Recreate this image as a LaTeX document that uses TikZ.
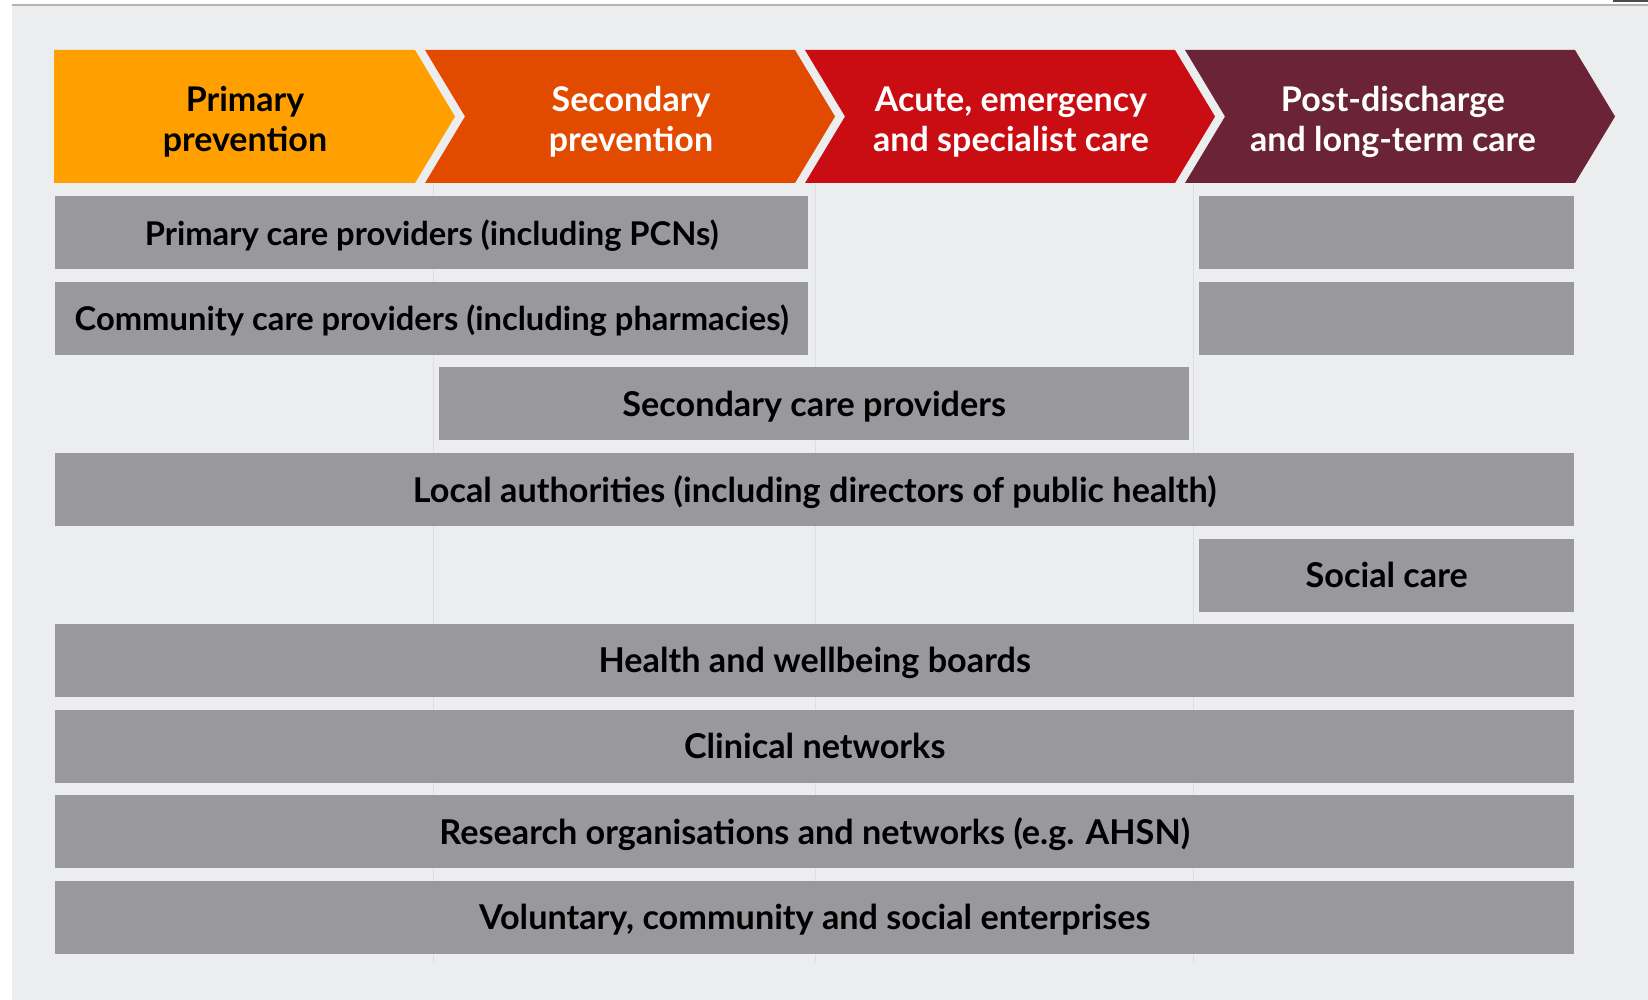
\documentclass[tikz,border=0pt]{standalone}
\usepackage{fontspec}
\setmainfont{Lato}
\definecolor{bgpanel}{HTML}{ECEDEF}
\definecolor{topline}{HTML}{B4B4B6}
\definecolor{gridline}{HTML}{DDDEE1}
\definecolor{barfill}{HTML}{99989D}
\definecolor{chevA}{HTML}{FFA000}
\definecolor{chevB}{HTML}{E24A00}
\definecolor{chevC}{HTML}{CA0C13}
\definecolor{chevD}{HTML}{6B2437}
\begin{document}
\begin{tikzpicture}[x=1pt,y=-1pt,
  bar/.style={rectangle, fill=barfill, draw=none, inner sep=0pt, anchor=north west,
    minimum height=73pt, text depth=1pt, font=\fontsize{34.2}{40}\selectfont\bfseries, text=black},
  narrowbar/.style={bar, font=\fontsize{32.7}{38}\selectfont\bfseries},
  chevtext/.style={align=center, font=\fontsize{34}{40}\selectfont\bfseries, inner sep=0pt}]
\useasboundingbox (0,0) rectangle (1648,1000);
\fill[white] (0,0) rectangle (1648,1000);
\fill[bgpanel] (12,6) rectangle (1648,1000);
\draw[topline, line width=2pt] (12,5) -- (1648,5);
\fill[black!70] (1613,0) rectangle (1648,2);
% faint column lines
\foreach \cx in {433,815,1193} {
  \draw[gridline, line width=1pt] (\cx,184) -- (\cx,962);
}
% chevrons
\fill[chevA] (54,50) -- (415,50) -- (455,116.5) -- (415,183) -- (54,183) -- cycle;
\fill[chevB] (425,50) -- (795,50) -- (835,116.5) -- (795,183) -- (425,183) -- (465,116.5) -- cycle;
\fill[chevC] (805,50) -- (1175,50) -- (1215,116.5) -- (1175,183) -- (805,183) -- (845,116.5) -- cycle;
\fill[chevD] (1185,50) -- (1575,50) -- (1615,116.5) -- (1575,183) -- (1185,183) -- (1225,116.5) -- cycle;
\node[chevtext, text=black] (c1) at (245,122) {Primary\\prevention};
\node[chevtext, text=white] (c2) at (631,122) {Secondary\\prevention};
\node[chevtext, text=white] (c3) at (1011,122) {Acute, emergency\\and specialist care};
\node[chevtext, text=white] (c4) at (1393,122) {Post-discharge\\and long-term care};
% bars
\node[narrowbar, minimum width=753pt] (pc) at (55,196) {Primary care providers (including PCNs)};
\node[bar, minimum width=375pt] (pcR) at (1199,196) {};
\node[narrowbar, minimum width=753pt] (cc) at (55,281.6) {Community care providers (including pharmacies)};
\node[bar, minimum width=375pt] (ccR) at (1199,281.6) {};
\node[bar, minimum width=750pt] (sc) at (439,367.2) {Secondary care providers};
\node[bar, minimum width=1519pt] (la) at (55,452.8) {Local authorities (including directors of public health)};
\node[bar, minimum width=375pt] (soc) at (1199,538.4) {Social care};
\node[bar, minimum width=1519pt] (hwb) at (55,624) {Health and wellbeing boards};
\node[bar, minimum width=1519pt] (cn) at (55,709.6) {Clinical networks};
\node[bar, minimum width=1519pt] (ro) at (55,795.2) {Research organisations and networks (e.g. AHSN)};
\node[bar, minimum width=1519pt] (vc) at (55,880.8) {Voluntary, community and social enterprises};
\end{tikzpicture}
\end{document}
